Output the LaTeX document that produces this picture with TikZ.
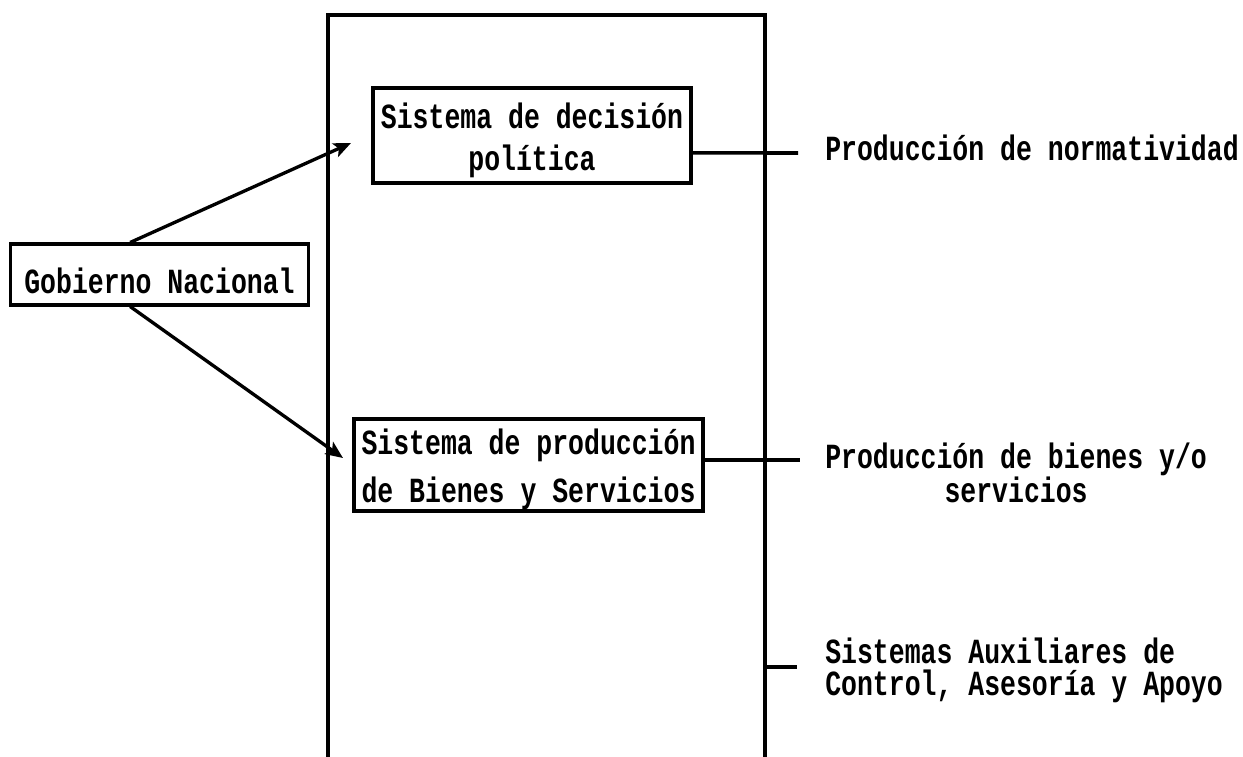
\documentclass[tikz,border=0pt]{standalone}
\usepackage{fontspec}
\setmainfont{Liberation Mono}[FakeStretch=0.75]
\usetikzlibrary{arrows.meta}
\newcommand{\lowr}[2]{\raisebox{-#1}[\height][\depth]{#2}}
\begin{document}
\begin{tikzpicture}[x=0.75pt,y=-0.75pt,
  tw/.style={font=\fontsize{26.5}{30}\selectfont\bfseries},
  box/.style={draw,line width=2.3pt,rectangle,inner sep=0pt,align=center,tw},
  wire/.style={line width=2.7pt},
  frame/.style={line width=3pt},
  arr/.style={line width=2.5pt,-{Stealth[length=13pt,width=11pt,inset=3pt]}},
  lbl/.style={tw,anchor=base west,inner sep=0pt}]
\useasboundingbox (0,0) rectangle (1243,757);
% frame
\coordinate (fbl) at (328,757);
\coordinate (ftl) at (328,15);
\coordinate (ftr) at (765,15);
\coordinate (fbr) at (765,757);
\draw[frame] (fbl) -- (ftl) -- (ftr) -- (fbr);
% boxes
\node[box,minimum width=224pt,minimum height=45.75pt] (gob) at (159.5,274.5) {\lowr{5pt}{Gobierno Nacional}};
\node[box,minimum width=238.5pt,minimum height=71.25pt,font=\fontsize{26.5}{31.5}\selectfont\bfseries] (dec) at (532,135.5) {\lowr{4pt}{Sistema de decisión}\\\lowr{4pt}{política}};
\node[box,minimum width=261.75pt,minimum height=69pt,font=\fontsize{26.5}{36}\selectfont\bfseries] (prod) at (528.5,465) {\lowr{3pt}{Sistema de producción}\\\lowr{3pt}{de Bienes y Servicios}};
% arrows
\coordinate (t1) at (351,143);
\coordinate (t2) at (343,458);
\draw[arr] ([xshift=-22pt]gob.north) -- (t1);
\draw[arr] ([xshift=-22pt]gob.south) -- (t2);
% outputs
\coordinate (e1) at (798,153);
\coordinate (e2) at (800,460);
\coordinate (s3) at (765,667);
\coordinate (e3) at (797,667);
\draw[wire] ([yshift=-13pt]dec.east) -- (e1);
\draw[wire] ([yshift=3.75pt]prod.east) -- (e2);
\draw[wire] (s3) -- (e3);
% labels
\node[lbl] (l1) at (825,160) {Producción de normatividad};
\node[lbl,align=center,font=\fontsize{26.5}{25.5}\selectfont\bfseries] (l2) at (825,502) {Producción de bienes y/o\\servicios};
\node[lbl,align=left,font=\fontsize{26.5}{24}\selectfont\bfseries] (l3) at (825,695) {Sistemas Auxiliares de\\Control, Asesoría y Apoyo};
\end{tikzpicture}
\end{document}
